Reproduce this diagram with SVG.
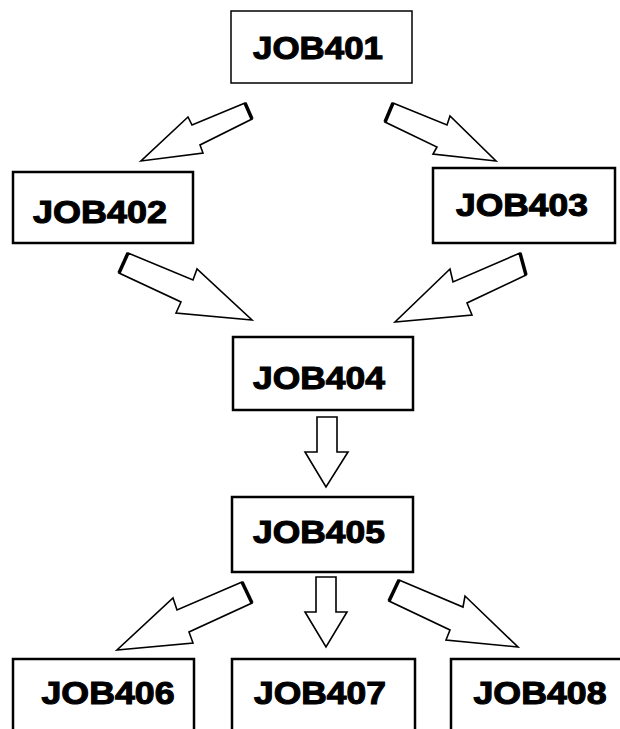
<svg xmlns="http://www.w3.org/2000/svg" width="620" height="729" viewBox="0 0 620 729">
<style>
.box{fill:#fff;stroke:#000;stroke-width:2.5}
.t{font-family:"Liberation Sans",Arial,sans-serif;font-weight:bold;font-size:32px;fill:#000;stroke:#000;stroke-width:1.1;text-anchor:middle}
.arr{fill:#fff;stroke:#000;stroke-width:1.6;stroke-linejoin:miter}
.tail{stroke:#000;stroke-width:3.5;fill:none}
</style>
<rect width="620" height="729" fill="#fff"/>
<g id="connectors">
<polygon class="arr" points="245,103 192,125 188,117 141,161 203,153 200,145 252,119"/>
<line class="tail" x1="245" y1="103" x2="252" y2="119"/>
<polygon class="arr" points="393,103 447,125 450,116 496,161 433,154 437,147 385,122"/>
<line class="tail" x1="393" y1="103" x2="385" y2="122"/>
<polygon class="arr" points="128,253 193,280 197,269 252,320 176,313 181,302 119,273"/>
<line class="tail" x1="128" y1="253" x2="119" y2="273"/>
<polygon class="arr" points="520,253 453,282 450,269 395,322 472,315 467,303 526,275"/>
<line class="tail" x1="520" y1="253" x2="526" y2="275"/>
<polygon class="arr" points="317,417 337,417 337,452 348,452 326,487 305,452 317,452"/>
<polygon class="arr" points="242,582 177,610 173,598 117,650 193,643 189,632 252,603"/>
<line class="tail" x1="242" y1="582" x2="252" y2="603"/>
<polygon class="arr" points="316,577 336,577 336,612 347,612 326,647 305,612 316,612"/>
<polygon class="arr" points="399,580 463,607 465,596 518,647 446,640 450,630 389,601"/>
<line class="tail" x1="399" y1="580" x2="389" y2="601"/>
</g>
<g id="JOB401"><rect class="box" x="231" y="11" width="181" height="72" style="stroke-width:1.5"/><text class="t" x="318" y="59" textLength="130" lengthAdjust="spacingAndGlyphs">JOB401</text></g>
<g id="JOB402"><rect class="box" x="13" y="172" width="180" height="71"/><text class="t" x="100" y="223" textLength="134" lengthAdjust="spacingAndGlyphs">JOB402</text></g>
<g id="JOB403"><rect class="box" x="433" y="168" width="182" height="75"/><text class="t" x="522" y="216" textLength="132" lengthAdjust="spacingAndGlyphs">JOB403</text></g>
<g id="JOB404"><rect class="box" x="233" y="337" width="180" height="73"/><text class="t" x="319" y="389" textLength="132" lengthAdjust="spacingAndGlyphs">JOB404</text></g>
<g id="JOB405"><rect class="box" x="232" y="497" width="181" height="75"/><text class="t" x="319" y="543" textLength="132" lengthAdjust="spacingAndGlyphs">JOB405</text></g>
<g id="JOB406"><rect class="box" x="13" y="659" width="181" height="90"/><text class="t" x="108" y="704" textLength="133" lengthAdjust="spacingAndGlyphs">JOB406</text></g>
<g id="JOB407"><rect class="box" x="232" y="659" width="183" height="90"/><text class="t" x="320" y="704" textLength="132" lengthAdjust="spacingAndGlyphs">JOB407</text></g>
<g id="JOB408"><rect class="box" x="451" y="659" width="190" height="90"/><text class="t" x="540" y="704" textLength="133" lengthAdjust="spacingAndGlyphs">JOB408</text></g>
</svg>
